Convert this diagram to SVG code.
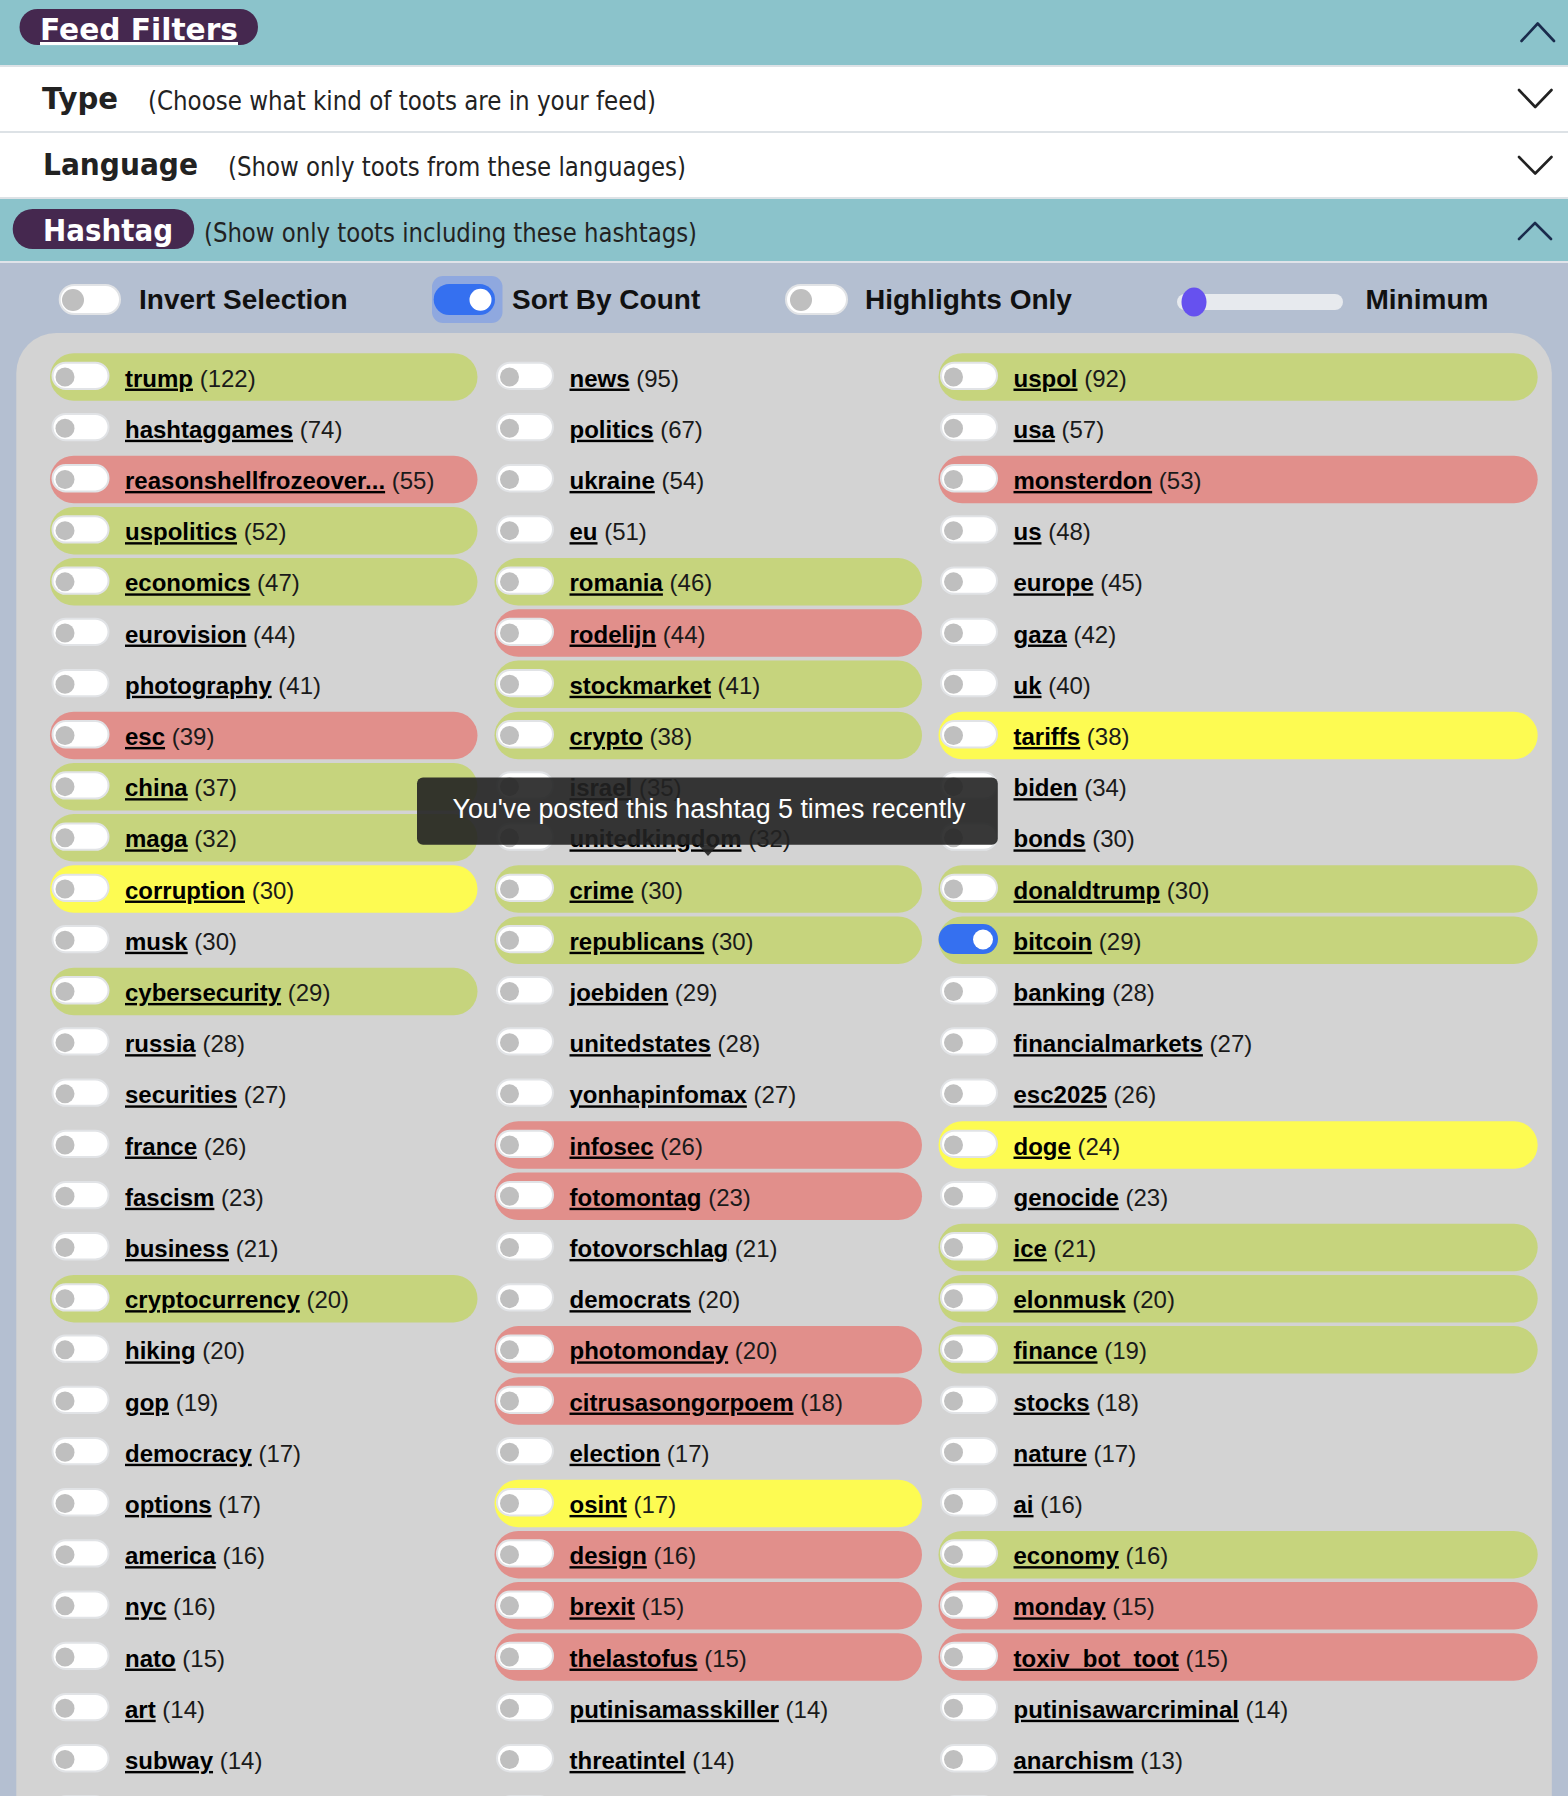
<svg xmlns="http://www.w3.org/2000/svg" xmlns:xlink="http://www.w3.org/1999/xlink" width="1568" height="1796" viewBox="0 0 1568 1796">
<style>
.teal{fill:#8bc3cb}
.sep{fill:#dde2e6}
.hpill{fill:#45284f}
.htitle{font-family:"DejaVu Sans",Verdana,sans-serif;font-weight:bold;font-size:31px}
.hsub{font-family:"DejaVu Sans",Verdana,sans-serif;font-size:26px;fill:#222}
.chev{fill:none;stroke-width:2.6;stroke-linecap:round;stroke-linejoin:round}
.tb{font-family:"Liberation Sans",Arial,sans-serif;font-weight:bold;font-size:28px;fill:#111}
.pg{fill:#c6d47d}.pr{fill:#e18f8b}.py{fill:#fdfb52}
.tgl{fill:#fff;stroke:#e1e3e6;stroke-width:2}
.kn{fill:#bfbfbf}
.t{font-family:"Liberation Sans",Arial,sans-serif;font-size:24px;fill:#1a1a1a}
.b{font-weight:bold;text-decoration:underline;fill:#000}
</style>
<defs>
<g id="tog"><rect class="tgl" x="2.5" y="9.4" width="56" height="26.3" rx="13.15"/><circle class="kn" cx="15" cy="23.75" r="9.5"/></g>
<rect id="p1" width="427.5" height="47.5" rx="23.75"/>
<rect id="p3" width="599.2" height="47.5" rx="23.75"/>
</defs>
<rect width="1568" height="1796" fill="#b4bfd1"/>
<g id="header-feed-filters">
<rect class="teal" x="0" y="0" width="1568" height="65"/>
<rect class="hpill" x="19.5" y="9" width="238.5" height="36" rx="18"/>
<text class="htitle" x="40" y="40" fill="#fff" font-size="32" text-decoration="underline" textLength="198" lengthAdjust="spacingAndGlyphs">Feed Filters</text>
<polyline class="chev" stroke="#1a2b4c" points="1521.5,41 1537.7,23.5 1554,41"/>
</g>
<rect class="sep" x="0" y="65" width="1568" height="2"/>
<g id="header-type">
<rect x="0" y="67" width="1568" height="64" fill="#fff"/>
<text class="htitle" x="42" y="109" fill="#222" textLength="76" lengthAdjust="spacingAndGlyphs">Type</text>
<text class="hsub" x="148" y="110" textLength="508" lengthAdjust="spacingAndGlyphs">(Choose what kind of toots are in your feed)</text>
<polyline class="chev" stroke="#222" points="1519,90 1535.2,107 1551.5,90"/>
</g>
<rect class="sep" x="0" y="131" width="1568" height="2"/>
<g id="header-language">
<rect x="0" y="133" width="1568" height="64" fill="#fff"/>
<text class="htitle" x="43" y="175" fill="#222" textLength="155" lengthAdjust="spacingAndGlyphs">Language</text>
<text class="hsub" x="228" y="176" textLength="458" lengthAdjust="spacingAndGlyphs">(Show only toots from these languages)</text>
<polyline class="chev" stroke="#222" points="1519,157 1535.2,173.5 1551.5,157"/>
</g>
<rect class="sep" x="0" y="197" width="1568" height="2"/>
<g id="header-hashtag">
<rect class="teal" x="0" y="199" width="1568" height="62"/>
<rect class="hpill" x="12.7" y="209" width="181.5" height="40" rx="20"/>
<text class="htitle" x="43" y="241" fill="#fff" textLength="130" lengthAdjust="spacingAndGlyphs">Hashtag</text>
<text class="hsub" x="204" y="242" textLength="493" lengthAdjust="spacingAndGlyphs">(Show only toots including these hashtags)</text>
<polyline class="chev" stroke="#1a2b4c" points="1519,239 1535,223 1551,239"/>
</g>
<rect x="0" y="261" width="1568" height="2" fill="#dfe3e9"/>
<g id="toolbar">
<g id="invert-selection">
<rect class="tgl" x="59.7" y="285" width="60.3" height="29" rx="14.5"/><circle class="kn" cx="73" cy="300" r="11"/>
<text class="tb" x="139" y="309">Invert Selection</text>
</g>
<g id="sort-by-count">
<rect x="432" y="276" width="70.5" height="47" rx="11" fill="#8fa8df"/>
<rect x="433.7" y="284" width="61.3" height="31" rx="15.5" fill="#3570f0"/>
<circle cx="480.5" cy="299.7" r="11" fill="#fff"/>
<text class="tb" x="512" y="309">Sort By Count</text>
</g>
<g id="highlights-only">
<rect class="tgl" x="786" y="285" width="61" height="29" rx="14.5"/><circle class="kn" cx="801" cy="300" r="11"/>
<text class="tb" x="865" y="309">Highlights Only</text>
</g>
<g id="minimum">
<rect x="1177" y="294" width="166" height="16" rx="8" fill="#e7eaee"/>
<ellipse cx="1194" cy="302" rx="12.5" ry="14.5" fill="#6651ef"/>
<text class="tb" x="1365.5" y="309" fill="#222">Minimum</text>
</g>
</g>
<rect id="tag-panel" x="16.3" y="333" width="1535.5" height="1520" rx="40" fill="#d3d3d3"/>
<g id="tags">
<!-- column 1 -->
<g id="tag-trump" transform="translate(50,353.3)"><use href="#p1" class="pg"/><use href="#tog"/><text class="t" x="75" y="33.25"><tspan class="b">trump</tspan> (122)</text></g>
<g id="tag-hashtaggames" transform="translate(50,404.5)"><use href="#tog"/><text class="t" x="75" y="33.25"><tspan class="b">hashtaggames</tspan> (74)</text></g>
<g id="tag-reasonshellfrozeover" transform="translate(50,455.7)"><use href="#p1" class="pr"/><use href="#tog"/><text class="t" x="75" y="33.25"><tspan class="b">reasonshellfrozeover...</tspan> (55)</text></g>
<g id="tag-uspolitics" transform="translate(50,506.9)"><use href="#p1" class="pg"/><use href="#tog"/><text class="t" x="75" y="33.25"><tspan class="b">uspolitics</tspan> (52)</text></g>
<g id="tag-economics" transform="translate(50,558.1)"><use href="#p1" class="pg"/><use href="#tog"/><text class="t" x="75" y="33.25"><tspan class="b">economics</tspan> (47)</text></g>
<g id="tag-eurovision" transform="translate(50,609.3)"><use href="#tog"/><text class="t" x="75" y="33.25"><tspan class="b">eurovision</tspan> (44)</text></g>
<g id="tag-photography" transform="translate(50,660.5)"><use href="#tog"/><text class="t" x="75" y="33.25"><tspan class="b">photography</tspan> (41)</text></g>
<g id="tag-esc" transform="translate(50,711.7)"><use href="#p1" class="pr"/><use href="#tog"/><text class="t" x="75" y="33.25"><tspan class="b">esc</tspan> (39)</text></g>
<g id="tag-china" transform="translate(50,762.9)"><use href="#p1" class="pg"/><use href="#tog"/><text class="t" x="75" y="33.25"><tspan class="b">china</tspan> (37)</text></g>
<g id="tag-maga" transform="translate(50,814.1)"><use href="#p1" class="pg"/><use href="#tog"/><text class="t" x="75" y="33.25"><tspan class="b">maga</tspan> (32)</text></g>
<g id="tag-corruption" transform="translate(50,865.3)"><use href="#p1" class="py"/><use href="#tog"/><text class="t" x="75" y="33.25"><tspan class="b">corruption</tspan> (30)</text></g>
<g id="tag-musk" transform="translate(50,916.5)"><use href="#tog"/><text class="t" x="75" y="33.25"><tspan class="b">musk</tspan> (30)</text></g>
<g id="tag-cybersecurity" transform="translate(50,967.7)"><use href="#p1" class="pg"/><use href="#tog"/><text class="t" x="75" y="33.25"><tspan class="b">cybersecurity</tspan> (29)</text></g>
<g id="tag-russia" transform="translate(50,1018.9)"><use href="#tog"/><text class="t" x="75" y="33.25"><tspan class="b">russia</tspan> (28)</text></g>
<g id="tag-securities" transform="translate(50,1070.1)"><use href="#tog"/><text class="t" x="75" y="33.25"><tspan class="b">securities</tspan> (27)</text></g>
<g id="tag-france" transform="translate(50,1121.3)"><use href="#tog"/><text class="t" x="75" y="33.25"><tspan class="b">france</tspan> (26)</text></g>
<g id="tag-fascism" transform="translate(50,1172.5)"><use href="#tog"/><text class="t" x="75" y="33.25"><tspan class="b">fascism</tspan> (23)</text></g>
<g id="tag-business" transform="translate(50,1223.7)"><use href="#tog"/><text class="t" x="75" y="33.25"><tspan class="b">business</tspan> (21)</text></g>
<g id="tag-cryptocurrency" transform="translate(50,1274.9)"><use href="#p1" class="pg"/><use href="#tog"/><text class="t" x="75" y="33.25"><tspan class="b">cryptocurrency</tspan> (20)</text></g>
<g id="tag-hiking" transform="translate(50,1326.1)"><use href="#tog"/><text class="t" x="75" y="33.25"><tspan class="b">hiking</tspan> (20)</text></g>
<g id="tag-gop" transform="translate(50,1377.3)"><use href="#tog"/><text class="t" x="75" y="33.25"><tspan class="b">gop</tspan> (19)</text></g>
<g id="tag-democracy" transform="translate(50,1428.5)"><use href="#tog"/><text class="t" x="75" y="33.25"><tspan class="b">democracy</tspan> (17)</text></g>
<g id="tag-options" transform="translate(50,1479.7)"><use href="#tog"/><text class="t" x="75" y="33.25"><tspan class="b">options</tspan> (17)</text></g>
<g id="tag-america" transform="translate(50,1530.9)"><use href="#tog"/><text class="t" x="75" y="33.25"><tspan class="b">america</tspan> (16)</text></g>
<g id="tag-nyc" transform="translate(50,1582.1)"><use href="#tog"/><text class="t" x="75" y="33.25"><tspan class="b">nyc</tspan> (16)</text></g>
<g id="tag-nato" transform="translate(50,1633.3)"><use href="#tog"/><text class="t" x="75" y="33.25"><tspan class="b">nato</tspan> (15)</text></g>
<g id="tag-art" transform="translate(50,1684.5)"><use href="#tog"/><text class="t" x="75" y="33.25"><tspan class="b">art</tspan> (14)</text></g>
<g id="tag-subway" transform="translate(50,1735.7)"><use href="#tog"/><text class="t" x="75" y="33.25"><tspan class="b">subway</tspan> (14)</text></g>
<g id="tag-row28-c1" transform="translate(50,1786.9)"><use href="#tog"/></g>
<!-- column 2 -->
<g id="tag-news" transform="translate(494.5,353.3)"><use href="#tog"/><text class="t" x="75" y="33.25"><tspan class="b">news</tspan> (95)</text></g>
<g id="tag-politics" transform="translate(494.5,404.5)"><use href="#tog"/><text class="t" x="75" y="33.25"><tspan class="b">politics</tspan> (67)</text></g>
<g id="tag-ukraine" transform="translate(494.5,455.7)"><use href="#tog"/><text class="t" x="75" y="33.25"><tspan class="b">ukraine</tspan> (54)</text></g>
<g id="tag-eu" transform="translate(494.5,506.9)"><use href="#tog"/><text class="t" x="75" y="33.25"><tspan class="b">eu</tspan> (51)</text></g>
<g id="tag-romania" transform="translate(494.5,558.1)"><use href="#p1" class="pg"/><use href="#tog"/><text class="t" x="75" y="33.25"><tspan class="b">romania</tspan> (46)</text></g>
<g id="tag-rodelijn" transform="translate(494.5,609.3)"><use href="#p1" class="pr"/><use href="#tog"/><text class="t" x="75" y="33.25"><tspan class="b">rodelijn</tspan> (44)</text></g>
<g id="tag-stockmarket" transform="translate(494.5,660.5)"><use href="#p1" class="pg"/><use href="#tog"/><text class="t" x="75" y="33.25"><tspan class="b">stockmarket</tspan> (41)</text></g>
<g id="tag-crypto" transform="translate(494.5,711.7)"><use href="#p1" class="pg"/><use href="#tog"/><text class="t" x="75" y="33.25"><tspan class="b">crypto</tspan> (38)</text></g>
<g id="tag-israel" transform="translate(494.5,762.9)"><use href="#tog"/><text class="t" x="75" y="33.25"><tspan class="b">israel</tspan> (35)</text></g>
<g id="tag-unitedkingdom" transform="translate(494.5,814.1)"><use href="#tog"/><text class="t" x="75" y="33.25"><tspan class="b">unitedkingdom</tspan> (32)</text></g>
<g id="tag-crime" transform="translate(494.5,865.3)"><use href="#p1" class="pg"/><use href="#tog"/><text class="t" x="75" y="33.25"><tspan class="b">crime</tspan> (30)</text></g>
<g id="tag-republicans" transform="translate(494.5,916.5)"><use href="#p1" class="pg"/><use href="#tog"/><text class="t" x="75" y="33.25"><tspan class="b">republicans</tspan> (30)</text></g>
<g id="tag-joebiden" transform="translate(494.5,967.7)"><use href="#tog"/><text class="t" x="75" y="33.25"><tspan class="b">joebiden</tspan> (29)</text></g>
<g id="tag-unitedstates" transform="translate(494.5,1018.9)"><use href="#tog"/><text class="t" x="75" y="33.25"><tspan class="b">unitedstates</tspan> (28)</text></g>
<g id="tag-yonhapinfomax" transform="translate(494.5,1070.1)"><use href="#tog"/><text class="t" x="75" y="33.25"><tspan class="b">yonhapinfomax</tspan> (27)</text></g>
<g id="tag-infosec" transform="translate(494.5,1121.3)"><use href="#p1" class="pr"/><use href="#tog"/><text class="t" x="75" y="33.25"><tspan class="b">infosec</tspan> (26)</text></g>
<g id="tag-fotomontag" transform="translate(494.5,1172.5)"><use href="#p1" class="pr"/><use href="#tog"/><text class="t" x="75" y="33.25"><tspan class="b">fotomontag</tspan> (23)</text></g>
<g id="tag-fotovorschlag" transform="translate(494.5,1223.7)"><use href="#tog"/><text class="t" x="75" y="33.25"><tspan class="b">fotovorschlag</tspan> (21)</text></g>
<g id="tag-democrats" transform="translate(494.5,1274.9)"><use href="#tog"/><text class="t" x="75" y="33.25"><tspan class="b">democrats</tspan> (20)</text></g>
<g id="tag-photomonday" transform="translate(494.5,1326.1)"><use href="#p1" class="pr"/><use href="#tog"/><text class="t" x="75" y="33.25"><tspan class="b">photomonday</tspan> (20)</text></g>
<g id="tag-citrusasongorpoem" transform="translate(494.5,1377.3)"><use href="#p1" class="pr"/><use href="#tog"/><text class="t" x="75" y="33.25"><tspan class="b">citrusasongorpoem</tspan> (18)</text></g>
<g id="tag-election" transform="translate(494.5,1428.5)"><use href="#tog"/><text class="t" x="75" y="33.25"><tspan class="b">election</tspan> (17)</text></g>
<g id="tag-osint" transform="translate(494.5,1479.7)"><use href="#p1" class="py"/><use href="#tog"/><text class="t" x="75" y="33.25"><tspan class="b">osint</tspan> (17)</text></g>
<g id="tag-design" transform="translate(494.5,1530.9)"><use href="#p1" class="pr"/><use href="#tog"/><text class="t" x="75" y="33.25"><tspan class="b">design</tspan> (16)</text></g>
<g id="tag-brexit" transform="translate(494.5,1582.1)"><use href="#p1" class="pr"/><use href="#tog"/><text class="t" x="75" y="33.25"><tspan class="b">brexit</tspan> (15)</text></g>
<g id="tag-thelastofus" transform="translate(494.5,1633.3)"><use href="#p1" class="pr"/><use href="#tog"/><text class="t" x="75" y="33.25"><tspan class="b">thelastofus</tspan> (15)</text></g>
<g id="tag-putinisamasskiller" transform="translate(494.5,1684.5)"><use href="#tog"/><text class="t" x="75" y="33.25"><tspan class="b">putinisamasskiller</tspan> (14)</text></g>
<g id="tag-threatintel" transform="translate(494.5,1735.7)"><use href="#tog"/><text class="t" x="75" y="33.25"><tspan class="b">threatintel</tspan> (14)</text></g>
<g id="tag-row28-c2" transform="translate(494.5,1786.9)"><use href="#tog"/></g>
<!-- column 3 -->
<g id="tag-uspol" transform="translate(938.5,353.3)"><use href="#p3" class="pg"/><use href="#tog"/><text class="t" x="75" y="33.25"><tspan class="b">uspol</tspan> (92)</text></g>
<g id="tag-usa" transform="translate(938.5,404.5)"><use href="#tog"/><text class="t" x="75" y="33.25"><tspan class="b">usa</tspan> (57)</text></g>
<g id="tag-monsterdon" transform="translate(938.5,455.7)"><use href="#p3" class="pr"/><use href="#tog"/><text class="t" x="75" y="33.25"><tspan class="b">monsterdon</tspan> (53)</text></g>
<g id="tag-us" transform="translate(938.5,506.9)"><use href="#tog"/><text class="t" x="75" y="33.25"><tspan class="b">us</tspan> (48)</text></g>
<g id="tag-europe" transform="translate(938.5,558.1)"><use href="#tog"/><text class="t" x="75" y="33.25"><tspan class="b">europe</tspan> (45)</text></g>
<g id="tag-gaza" transform="translate(938.5,609.3)"><use href="#tog"/><text class="t" x="75" y="33.25"><tspan class="b">gaza</tspan> (42)</text></g>
<g id="tag-uk" transform="translate(938.5,660.5)"><use href="#tog"/><text class="t" x="75" y="33.25"><tspan class="b">uk</tspan> (40)</text></g>
<g id="tag-tariffs" transform="translate(938.5,711.7)"><use href="#p3" class="py"/><use href="#tog"/><text class="t" x="75" y="33.25"><tspan class="b">tariffs</tspan> (38)</text></g>
<g id="tag-biden" transform="translate(938.5,762.9)"><use href="#tog"/><text class="t" x="75" y="33.25"><tspan class="b">biden</tspan> (34)</text></g>
<g id="tag-bonds" transform="translate(938.5,814.1)"><use href="#tog"/><text class="t" x="75" y="33.25"><tspan class="b">bonds</tspan> (30)</text></g>
<g id="tag-donaldtrump" transform="translate(938.5,865.3)"><use href="#p3" class="pg"/><use href="#tog"/><text class="t" x="75" y="33.25"><tspan class="b">donaldtrump</tspan> (30)</text></g>
<g id="tag-bitcoin" transform="translate(938.5,916.5)"><use href="#p3" class="pg"/><rect x="0" y="7.6" width="59.5" height="30" rx="15" fill="#3570f0"/><circle cx="44.5" cy="23" r="10" fill="#fff"/><text class="t" x="75" y="33.25"><tspan class="b">bitcoin</tspan> (29)</text></g>
<g id="tag-banking" transform="translate(938.5,967.7)"><use href="#tog"/><text class="t" x="75" y="33.25"><tspan class="b">banking</tspan> (28)</text></g>
<g id="tag-financialmarkets" transform="translate(938.5,1018.9)"><use href="#tog"/><text class="t" x="75" y="33.25"><tspan class="b">financialmarkets</tspan> (27)</text></g>
<g id="tag-esc2025" transform="translate(938.5,1070.1)"><use href="#tog"/><text class="t" x="75" y="33.25"><tspan class="b">esc2025</tspan> (26)</text></g>
<g id="tag-doge" transform="translate(938.5,1121.3)"><use href="#p3" class="py"/><use href="#tog"/><text class="t" x="75" y="33.25"><tspan class="b">doge</tspan> (24)</text></g>
<g id="tag-genocide" transform="translate(938.5,1172.5)"><use href="#tog"/><text class="t" x="75" y="33.25"><tspan class="b">genocide</tspan> (23)</text></g>
<g id="tag-ice" transform="translate(938.5,1223.7)"><use href="#p3" class="pg"/><use href="#tog"/><text class="t" x="75" y="33.25"><tspan class="b">ice</tspan> (21)</text></g>
<g id="tag-elonmusk" transform="translate(938.5,1274.9)"><use href="#p3" class="pg"/><use href="#tog"/><text class="t" x="75" y="33.25"><tspan class="b">elonmusk</tspan> (20)</text></g>
<g id="tag-finance" transform="translate(938.5,1326.1)"><use href="#p3" class="pg"/><use href="#tog"/><text class="t" x="75" y="33.25"><tspan class="b">finance</tspan> (19)</text></g>
<g id="tag-stocks" transform="translate(938.5,1377.3)"><use href="#tog"/><text class="t" x="75" y="33.25"><tspan class="b">stocks</tspan> (18)</text></g>
<g id="tag-nature" transform="translate(938.5,1428.5)"><use href="#tog"/><text class="t" x="75" y="33.25"><tspan class="b">nature</tspan> (17)</text></g>
<g id="tag-ai" transform="translate(938.5,1479.7)"><use href="#tog"/><text class="t" x="75" y="33.25"><tspan class="b">ai</tspan> (16)</text></g>
<g id="tag-economy" transform="translate(938.5,1530.9)"><use href="#p3" class="pg"/><use href="#tog"/><text class="t" x="75" y="33.25"><tspan class="b">economy</tspan> (16)</text></g>
<g id="tag-monday" transform="translate(938.5,1582.1)"><use href="#p3" class="pr"/><use href="#tog"/><text class="t" x="75" y="33.25"><tspan class="b">monday</tspan> (15)</text></g>
<g id="tag-toxiv_bot_toot" transform="translate(938.5,1633.3)"><use href="#p3" class="pr"/><use href="#tog"/><text class="t" x="75" y="33.25"><tspan class="b">toxiv_bot_toot</tspan> (15)</text></g>
<g id="tag-putinisawarcriminal" transform="translate(938.5,1684.5)"><use href="#tog"/><text class="t" x="75" y="33.25"><tspan class="b">putinisawarcriminal</tspan> (14)</text></g>
<g id="tag-anarchism" transform="translate(938.5,1735.7)"><use href="#tog"/><text class="t" x="75" y="33.25"><tspan class="b">anarchism</tspan> (13)</text></g>
<g id="tag-row28-c3" transform="translate(938.5,1786.9)"><use href="#tog"/></g>
</g>
<g id="connectors"/>
<g id="tooltip">
<rect x="417" y="777.5" width="580.8" height="67.3" rx="6" fill="#222" fill-opacity="0.9"/>
<polygon points="698,844.5 718,844.5 708,856" fill="#222" fill-opacity="0.9"/>
<text x="709" y="817.5" text-anchor="middle" font-family="'Liberation Sans',Arial,sans-serif" font-size="27" fill="#fff" textLength="513" lengthAdjust="spacingAndGlyphs">You've posted this hashtag 5 times recently</text>
</g>
</svg>
